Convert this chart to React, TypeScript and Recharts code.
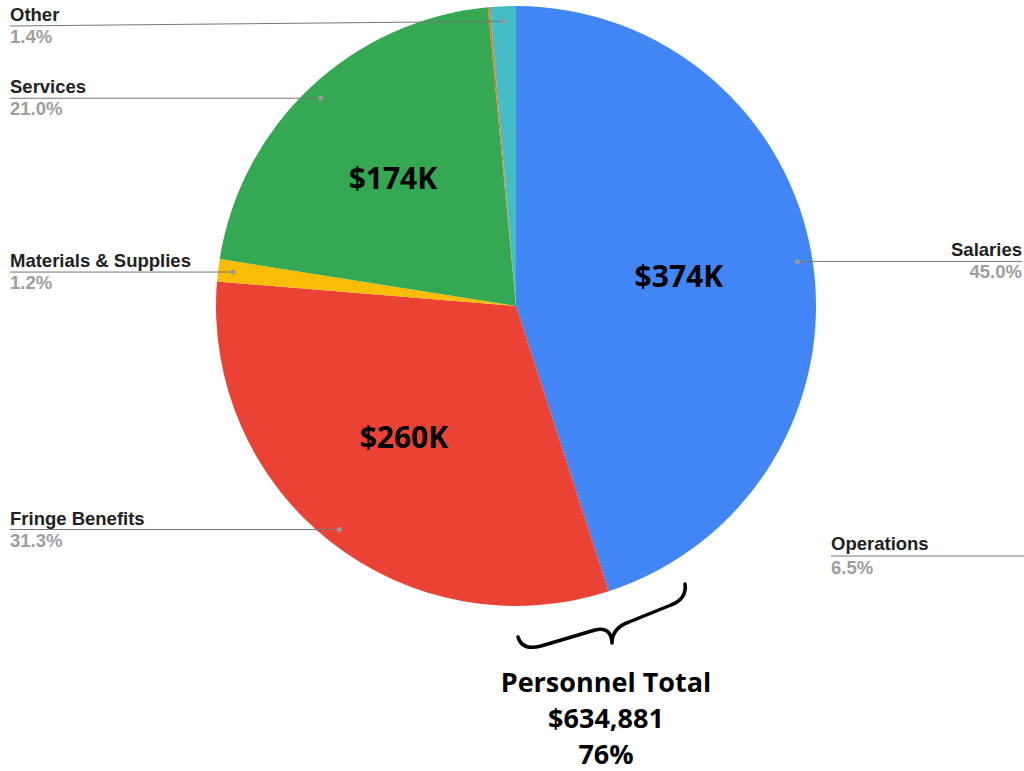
import { PieChart, Pie, Cell } from 'recharts';

// slices clockwise from 12 o'clock
const categories = ['Salaries', 'Fringe Benefits', 'Materials & Supplies', 'Services', 'Operations', 'Other'];
const shares = [45.0, 31.3, 1.2, 21.0, 0.1, 1.4];
const percentLabels = ['45.0%', '31.3%', '1.2%', '21.0%', '6.5%', '1.4%'];
const valueLabels = ['$374K', '$260K', '', '$174K', '', ''];
const colors = ['#4285f4', '#ea4335', '#fbbc04', '#34a853', '#ff6d01', '#46bdc6'];
const personnelLines = ['Personnel Total', '$634,881', '76%'];

const data = categories.map((name, i) => ({ name, value: shares[i] }));

const RAD = Math.PI / 180;
const LEFT_X = 10;
const RIGHT_X = 1022;
const OPS_POS = { x: 831, y: 556 };

function SliceLabel(props: any) {
    const { cx, cy, midAngle, outerRadius, index } = props;
    const cos = Math.cos(-midAngle * RAD);
    const sin = Math.sin(-midAngle * RAD);
    const name = categories[index];
    const nameStyle = { fontFamily: '"Liberation Sans", Arial, sans-serif', fontWeight: 700, fontSize: 18.5 };

    // value inside the big slices
    let inner = null;
    if (valueLabels[index]) {
        const r = outerRadius * 0.57;
        inner = (
            <text
                x={cx + r * cos - 6}
                y={cy + r * sin - 4}
                textAnchor="middle"
                dominantBaseline="central"
                fill="#000"
                style={{ fontFamily: '"Open Sans", sans-serif', fontWeight: 700, fontSize: 30 }}
            >
                {valueLabels[index]}
            </text>
        );
    }

    if (name === 'Operations') {
        return (
            <g>
                <line x1={OPS_POS.x} y1={OPS_POS.y} x2={1024} y2={OPS_POS.y} stroke="#777" strokeWidth={1} />
                <text x={OPS_POS.x} y={OPS_POS.y - 6} fill="#222" style={nameStyle}>{name}</text>
                <text x={OPS_POS.x} y={OPS_POS.y + 18} fill="#9e9e9e" style={nameStyle}>{percentLabels[index]}</text>
            </g>
        );
    }

    const dotR = outerRadius - 15;
    const dotX = cx + dotR * cos;
    const dotY = cy + dotR * sin;
    const right = cos > 0;
    const edgeX = right ? RIGHT_X : LEFT_X;
    const lineY = Math.max(dotY, 26);
    const anchor = right ? 'end' : 'start';

    return (
        <g>
            {inner}
            <line x1={dotX} y1={dotY} x2={edgeX} y2={lineY} stroke="#777" strokeWidth={1} />
            <circle cx={dotX} cy={dotY} r={2.5} fill="#999" />
            <text x={edgeX} y={lineY - 5} textAnchor={anchor} fill="#222" style={nameStyle}>{name}</text>
            <text x={edgeX} y={lineY + 17} textAnchor={anchor} fill="#9e9e9e" style={nameStyle}>{percentLabels[index]}</text>
        </g>
    );
}

export default function App() {
    return (
        <div style={{ position: 'absolute', left: 0, top: 0, width: 1024, height: 771, background: '#fff' }}>
            <PieChart width={1024} height={771} margin={{ top: 0, right: 0, bottom: 0, left: 0 }}>
                <Pie
                    data={data}
                    dataKey="value"
                    nameKey="name"
                    cx={516}
                    cy={306}
                    outerRadius={300}
                    startAngle={90}
                    endAngle={-270}
                    stroke="none"
                    label={SliceLabel}
                    labelLine={false}
                    isAnimationActive={false}
                >
                    {data.map((d, i) => (
                        <Cell key={d.name} fill={colors[i]} />
                    ))}
                </Pie>
            </PieChart>

            {/* brace under the personnel slices */}
            <svg width={1024} height={771} style={{ position: 'absolute', left: 0, top: 0, pointerEvents: 'none' }}>
                <path
                    d="M518,637 Q522,651 541,646 L595,630 Q611,626 612,643 Q612,628 629,622 L671,605 Q687,599 685,584"
                    fill="none"
                    stroke="#000"
                    strokeWidth={3.5}
                    strokeLinecap="round"
                    strokeLinejoin="round"
                />
                {personnelLines.map((t, i) => (
                    <text
                        key={t}
                        x={606}
                        y={692 + i * 36}
                        textAnchor="middle"
                        fill="#000"
                        style={{ fontFamily: '"Open Sans", sans-serif', fontWeight: 700, fontSize: 27 }}
                    >
                        {t}
                    </text>
                ))}
            </svg>
        </div>
    );
}
